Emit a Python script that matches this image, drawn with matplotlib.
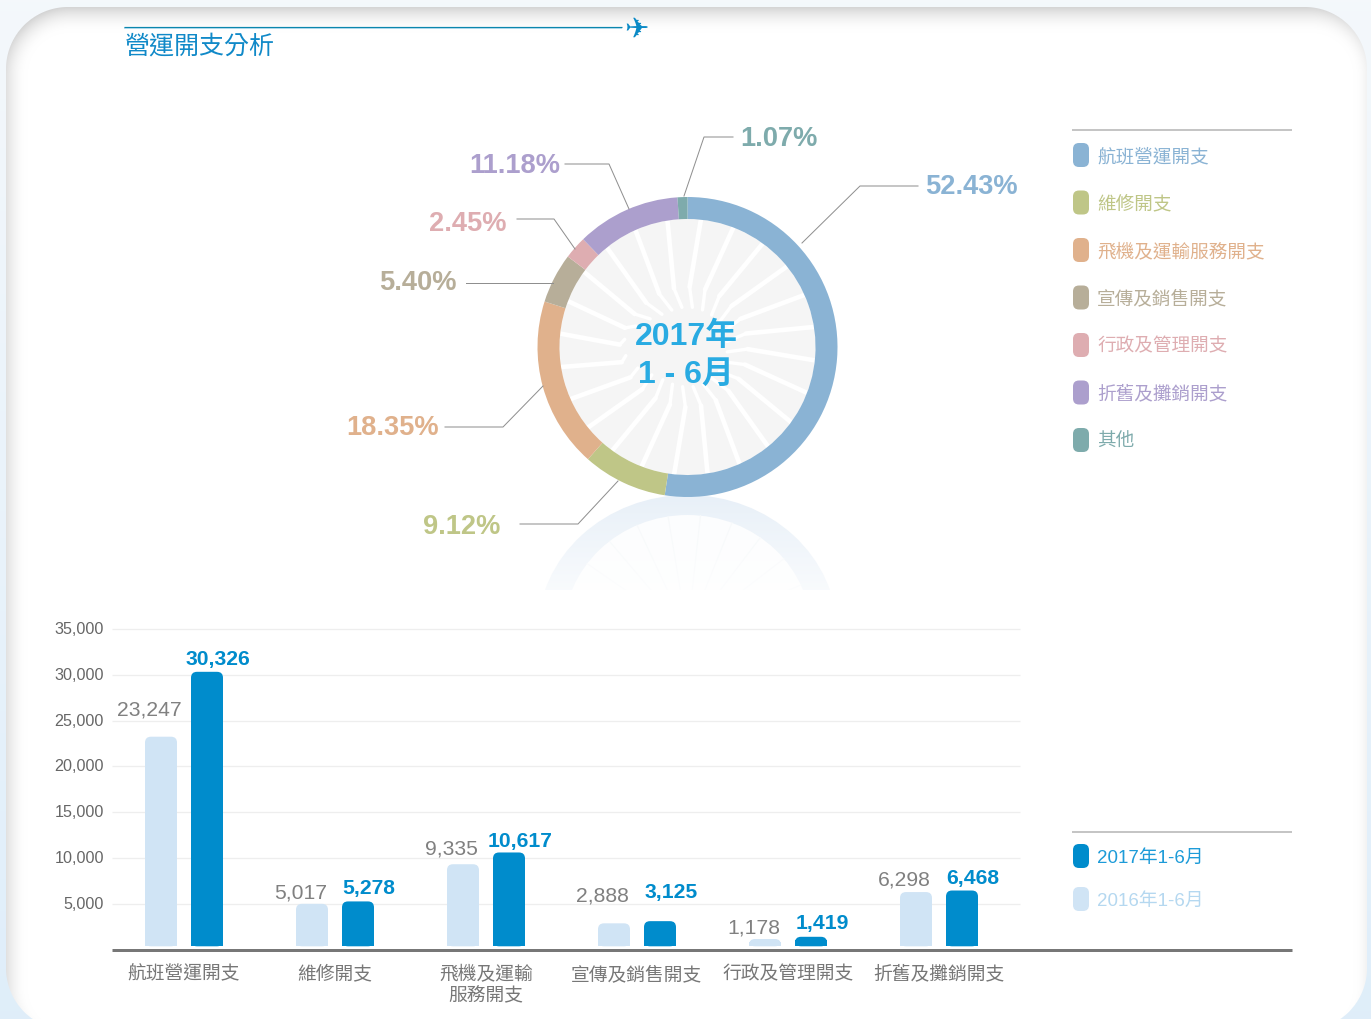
import numpy as np
import matplotlib
matplotlib.use("Agg")
import matplotlib.pyplot as plt
from matplotlib.patches import FancyBboxPatch, Ellipse, Circle, Rectangle
from matplotlib.transforms import ScaledTranslation

plt.rcParams['font.family'] = ['Liberation Sans', 'Noto Sans CJK TC', 'DejaVu Sans']

# pie data
pie_names = ['航班營運開支', '維修開支', '飛機及運輸服務開支', '宣傳及銷售開支',
             '行政及管理開支', '折舊及攤銷開支', '其他']
pie_values = [52.43, 9.12, 18.35, 5.40, 2.45, 11.18, 1.07]
pie_colors = ['#8ab3d4', '#bfc687', '#e0b18c', '#b7ae99', '#deadb1', '#ac9fcd', '#7eabac']

# bar data
bar_names = ['航班營運開支', '維修開支', '飛機及運輸\n服務開支', '宣傳及銷售開支',
             '行政及管理開支', '折舊及攤銷開支']
values_2016 = [23247, 5017, 9335, 2888, 1178, 6298]
values_2017 = [30326, 5278, 10617, 3125, 1419, 6468]
y_ticks = [5000, 10000, 15000, 20000, 25000, 30000, 35000]

W, H = 1371, 1019
fig = plt.figure(figsize=(W / 100, H / 100), dpi=100)
PX = 0.72  # one pixel in points

# background axes in pixel coords
bg = fig.add_axes([0, 0, 1, 1], zorder=0)
bg.set_xlim(0, W)
bg.set_ylim(H, 0)
bg.axis('off')


def panel_dist(xx, yy, left, top, right, bottom, r):
    # distance to the inside of a rounded box, negative outside
    cx, cy = (left + right) / 2, (top + bottom) / 2
    qx = np.abs(xx - cx) - ((right - left) / 2 - r)
    qy = np.abs(yy - cy) - ((bottom - top) / 2 - r)
    out = np.hypot(np.maximum(qx, 0), np.maximum(qy, 0)) + np.minimum(np.maximum(qx, qy), 0) - r
    return -out


xx, yy = np.meshgrid(np.arange(W) + 0.5, np.arange(H) + 0.5)
d0 = panel_dist(xx, yy, 6, 7, 1367, 1030, 62)
d1 = panel_dist(xx, yy, 8, 13, 1373, 1050, 62)
shade = np.clip(1 - (d1 + 6) / 26, 0, 1) ** 2
panel = 1 - 0.17 * shade
t = (yy / H)[..., None]
back = (1 - t) * np.array([0.957, 0.973, 0.988]) + t * np.array([0.875, 0.933, 0.98])
edge = np.clip(d0 + 0.5, 0, 1)[..., None]
img = edge * (panel[..., None] * np.ones(3)) + (1 - edge) * back
bg.imshow(img, extent=(0, W, H, 0), aspect='auto', zorder=0, interpolation='bilinear')
bg.set_xlim(0, W)
bg.set_ylim(H, 0)

# title
bg.plot([124, 622], [28, 28], color='#a9d8f0', lw=1.5 * PX, zorder=2, solid_capstyle='butt')
bg.plot([124, 622], [27, 27], color='#0b86ad', lw=1.2 * PX, zorder=2, solid_capstyle='butt')
bg.text(125, 46, '營運開支分析', color='#1089c8', fontsize=18, va='center', ha='left', zorder=3)
bg.text(636, 30, '\u2708', color='#0b8ac6', fontsize=21, va='center', ha='center',
        family='DejaVu Sans', zorder=3)

# reflection under the ring
clip = Rectangle((530, 495), 320, 95, transform=bg.transData)
rc = (687.5, 633)
for p in [Ellipse(rc, 300, 276, fc='#e8f0f8', ec='none', zorder=2),
          Ellipse(rc, 248, 236, fc='#fcfdfe', ec='none', zorder=2)]:
    bg.add_patch(p)
    p.set_clip_path(clip)
for a in np.deg2rad(np.arange(6, 366, 15)):
    ln, = bg.plot([rc[0] + 40 * np.sin(a), rc[0] + 124 * np.sin(a)],
                  [rc[1] - 38 * np.cos(a), rc[1] - 118 * np.cos(a)],
                  color='#f5f8fa', lw=1.2 * PX, zorder=2)
    ln.set_clip_path(clip)
fade = np.ones((95, 1, 4))
fade[..., 3] = np.linspace(0, 0.72, 95)[:, None]
bg.imshow(fade, extent=(530, 850, 590, 495), aspect='auto', zorder=3)
bg.set_xlim(0, W)
bg.set_ylim(H, 0)

# donut
R_px = 150
axp = fig.add_axes([(687.5 - R_px) / W, (H - 347 - R_px) / H, 2 * R_px / W, 2 * R_px / H], zorder=1)
axp.patch.set_alpha(0)
axp.add_patch(Circle((0, 0), 128 / R_px, fc='#f5f5f5', ec='none', zorder=0))
for a in np.arange(6, 366, 15):
    s = np.sin(np.deg2rad(a))
    r_in = 40 + 24 * max(0, -s) ** 6
    rr = np.array([128, 60 + 8 * max(0, -s) ** 6, r_in]) / R_px
    aa = np.deg2rad(np.array([a, a - 4, a + 1]))
    axp.plot(rr[:2] * np.sin(aa[:2]), rr[:2] * np.cos(aa[:2]), color='white', lw=4.6 * PX,
             solid_capstyle='round', zorder=1)
    axp.plot(rr[1:] * np.sin(aa[1:]), rr[1:] * np.cos(aa[1:]), color='white', lw=3.4 * PX,
             solid_capstyle='round', zorder=1)
wedges, _ = axp.pie(pie_values, colors=pie_colors, startangle=90, counterclock=False, radius=1,
                    wedgeprops=dict(width=22 / R_px, edgecolor='none'))
axp.set_xlim(-1, 1)
axp.set_ylim(-1, 1)
axp.set_aspect('auto')
axp.axis('off')

bg2 = fig.add_axes([0, 0, 1, 1], zorder=3)
bg2.set_xlim(0, W)
bg2.set_ylim(H, 0)
bg2.axis('off')
bg2.text(686, 337, '2017年', color='#29abe2', fontsize=23, fontweight='bold', ha='center', va='center')
bg2.text(686, 375, '1 - 6月', color='#29abe2', fontsize=23, fontweight='bold', ha='center', va='center')

# leader lines + percent labels
leaders = [
    ([802, 860, 918], [243, 186, 186], 925, 187, 'left', 0),
    ([618, 578, 520], [481, 524, 524], 500, 527, 'right', 1),
    ([543, 503, 445], [386, 427, 427], 439, 428, 'right', 2),
    ([553, 466], [283, 283], 457, 283, 'right', 3),
    ([575, 554, 517], [249, 219, 219], 507, 224, 'right', 4),
    ([629, 609, 565], [209, 164, 164], 560, 166, 'right', 5),
    ([684, 704, 733], [196, 137, 137], 740, 139, 'left', 6),
]
for lx, ly, tx, ty, ha, i in leaders:
    bg2.plot(lx, ly, color='#8f8f8f', lw=1.0 * PX)
    bg2.text(tx, ty, '%.2f%%' % pie_values[i], color=pie_colors[i], fontsize=19.6,
             fontweight='bold', ha=ha, va='center')


def swatch(y, color):
    bg2.add_patch(FancyBboxPatch((1073 + 5, y - 12 + 5), 16 - 10, 24 - 10,
                                 boxstyle='round,pad=5,rounding_size=6', fc=color, ec='none'))


# legends
bg2.plot([1072, 1292], [130, 130], color='#b3b3b3', lw=1.5 * PX, solid_capstyle='butt')
for i, name in enumerate(pie_names):
    y = 155 + i * 47.5
    swatch(y, pie_colors[i])
    bg2.text(1097, y + 2, name, color=pie_colors[i], fontsize=13.4, ha='left', va='center')

bg2.plot([1072, 1292], [832, 832], color='#b3b3b3', lw=1.5 * PX, solid_capstyle='butt')
swatch(856, '#008ccc')
bg2.text(1097, 858, '2017年1-6月', color='#1d9bd8', fontsize=13.5, ha='left', va='center')
swatch(899, '#d0e4f5')
bg2.text(1097, 901, '2016年1-6月', color='#b5d8f0', fontsize=13.5, ha='left', va='center')

# bars
x_left, x_right, y_base, y_top = 112, 1292, 949.8, 620
group_px, first_px = 151, 184
y_scale = 275 / 30000
ax = fig.add_axes([x_left / W, (H - y_base) / H, (x_right - x_left) / W, (y_base - y_top) / H], zorder=2)
ax.patch.set_alpha(0)
ax.set_xlim((x_left - first_px) / group_px, (x_right - first_px) / group_px)
ax.set_ylim(0, (y_base - y_top) / y_scale)
ax.hlines(y_ticks, ax.get_xlim()[0], (1020 - first_px) / group_px, color='#eeeeee', lw=1.3 * PX, zorder=0)

x = np.arange(len(bar_names))
off = 23 / group_px
bw = 32 / group_px
base = 3.5 / y_scale
rad = 6
dy2016 = [28, 12, 17, 29, 13, 14]
dy2017 = [14, 14.5, 12.5, 30, 15, 13.5]

for xs, vals, col, tcol, weight, dx, dys in [
        (x - off, values_2016, '#d0e4f5', '#808080', 'normal', -11.5, dy2016),
        (x + off, values_2017, '#008ccc', '#008ccc', 'bold', 11, dy2017)]:
    low = [min(7400, v * 0.72) - base for v in vals]
    ax.bar(xs, low, width=32.5 / group_px, bottom=base, color=col, zorder=2)
    for xi, v, dy in zip(xs, vals, dys):
        ax.add_patch(FancyBboxPatch((xi - bw / 2, base), bw, v - base,
                                    boxstyle='round,pad=0,rounding_size=%f' % (rad / group_px),
                                    mutation_aspect=(rad / y_scale) / (rad / group_px),
                                    fc=col, ec='none', zorder=2))
        ax.annotate(format(v, ','), (xi, v), xytext=(dx * PX, (dy - 1.5) * PX), textcoords='offset points',
                    ha='center', va='center', color=tcol, fontsize=15.2, fontweight=weight, zorder=4)

for s in ['top', 'left', 'right']:
    ax.spines[s].set_visible(False)
ax.spines['bottom'].set_color('#777777')
ax.spines['bottom'].set_linewidth(3 * PX)
ax.spines['bottom'].set_capstyle('butt')
ax.set_yticks(y_ticks)
ax.set_yticklabels([format(v, ',') for v in y_ticks], color='#666666', fontsize=11.6)
ax.set_xticks(x)
ax.set_xticklabels(bar_names, color='#777777', fontsize=13.5, linespacing=1.3, va='top')
ax.tick_params(axis='both', length=0)
ax.tick_params(axis='y', pad=8 * PX)
ax.tick_params(axis='x', pad=16 * PX)
for lab in ax.get_yticklabels():
    lab.set_transform(lab.get_transform() + ScaledTranslation(0, 1 / 100, fig.dpi_scale_trans))

fig.savefig('out.png', dpi=100)
